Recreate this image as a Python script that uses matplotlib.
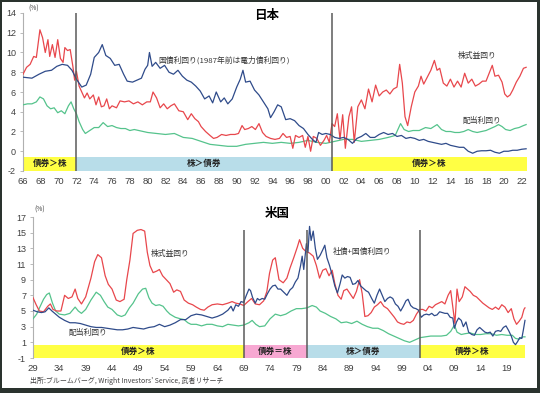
import matplotlib
matplotlib.use("Agg")
import matplotlib.pyplot as plt
from matplotlib.patches import Rectangle

plt.rcParams['font.family'] = ['Noto Sans CJK JP', 'DejaVu Sans']

# ---------------- Japan data ----------------
jp_bond_year = [1966.0,1967.0,1967.8,1968.5,1969.2,1969.8,1970.4,1971.0,1971.5,1972.0,1972.6,1973.1,1973.6,1974.0,1974.5,1974.9,1975.3,1975.8,1976.3,1976.8,1977.3,1977.7,1978.3,1978.8,1979.3,1979.7,1980.0,1980.2,1980.5,1980.9,1981.4,1981.9,1982.4,1982.9,1983.4,1983.9,1984.4,1984.9,1985.4,1985.9,1986.4,1986.9,1987.3,1987.7,1988.2,1988.6,1989.0,1989.5,1990.0,1990.4,1990.7,1991.0,1991.5,1992.0,1992.5,1993.0,1993.5,1993.8,1994.2,1994.6,1995.0,1995.5,1996.0,1996.5,1997.0,1997.5,1998.0,1998.5,1998.9,1999.2,1999.6,2000.0,2000.5,2001.0,2001.5,2002.0,2002.5,2003.0,2003.5,2004.0,2004.5,2005.0,2005.5,2006.0,2006.5,2007.0,2007.5,2008.0,2008.5,2009.0,2009.5,2010.0,2010.5,2011.0,2011.5,2012.0,2012.5,2013.0,2013.5,2014.0,2014.5,2015.0,2015.5,2016.0,2016.5,2017.0,2017.5,2018.0,2018.5,2019.0,2019.5,2020.0,2020.5,2021.0,2021.5,2022.0,2022.5]
jp_bond = [7.5,7.4,7.8,8.1,8.2,8.6,8.8,8.7,8.2,7.3,6.5,6.7,7.8,9.5,10.0,10.8,9.7,9.4,8.7,8.8,7.8,7.1,7.0,7.2,7.4,8.3,8.7,10.0,8.6,9.0,8.4,8.7,8.0,7.8,8.2,7.6,7.2,7.0,6.6,6.1,5.3,5.6,4.9,6.0,5.0,5.4,4.8,5.3,6.5,7.3,8.2,7.0,7.1,6.2,5.7,5.0,4.3,3.4,4.0,4.7,4.5,3.2,3.3,3.1,2.6,2.3,1.7,1.2,0.9,1.9,1.7,1.8,1.7,1.4,1.3,1.4,1.2,0.8,1.3,1.5,1.8,1.4,1.4,1.7,1.9,1.7,1.8,1.5,1.6,1.3,1.4,1.3,1.1,1.2,1.0,0.9,0.8,0.7,0.8,0.6,0.5,0.4,0.4,0.0,-0.2,0.0,0.05,0.05,0.1,-0.1,-0.2,0.0,0.0,0.1,0.1,0.2,0.25]

jp_earn_year = [1966.0,1966.4,1966.8,1967.2,1967.5,1967.9,1968.2,1968.5,1968.8,1969.0,1969.3,1969.6,1969.9,1970.2,1970.5,1970.7,1971.0,1971.3,1971.6,1971.8,1972.0,1972.3,1972.6,1972.9,1973.2,1973.5,1973.9,1974.2,1974.5,1974.8,1975.1,1975.4,1975.7,1976.0,1976.5,1976.9,1977.4,1977.9,1978.4,1978.9,1979.4,1979.9,1980.3,1980.6,1981.0,1981.4,1981.8,1982.2,1982.6,1983.0,1983.5,1984.0,1984.5,1984.9,1985.3,1985.7,1986.0,1986.5,1987.0,1987.4,1987.8,1988.3,1988.8,1989.3,1989.8,1990.2,1990.6,1990.9,1991.3,1991.7,1992.1,1992.5,1992.9,1993.3,1993.8,1994.3,1994.8,1995.2,1995.6,1996.0,1996.3,1996.6,1997.0,1997.4,1997.7,1998.0,1998.3,1998.6,1999.0,1999.4,1999.8,2000.1,2000.4,2000.7,2001.0,2001.3,2001.6,2001.9,2002.2,2002.6,2002.9,2003.2,2003.6,2004.0,2004.4,2004.8,2005.2,2005.6,2006.0,2006.4,2006.8,2007.2,2007.6,2008.0,2008.3,2008.6,2008.9,2009.2,2009.6,2010.0,2010.4,2010.7,2011.0,2011.4,2011.8,2012.2,2012.5,2012.8,2013.2,2013.6,2014.0,2014.4,2014.8,2015.2,2015.6,2016.0,2016.4,2016.8,2017.2,2017.6,2018.0,2018.4,2018.7,2019.0,2019.4,2019.8,2020.1,2020.4,2020.7,2021.0,2021.4,2021.8,2022.2,2022.5]
jp_earn = [7.8,8.5,8.8,9.6,9.5,12.3,11.5,10.0,11.3,9.6,10.8,9.5,11.3,9.4,9.0,10.5,10.2,10.3,8.6,7.2,8.1,6.6,6.0,5.4,5.9,5.3,5.7,4.7,5.5,4.5,4.6,5.3,4.3,4.6,4.4,5.1,5.0,5.1,4.8,5.0,4.7,5.0,5.0,6.0,5.4,4.4,4.8,4.3,4.6,4.8,4.1,4.0,3.2,3.8,3.3,3.0,2.5,2.0,1.6,1.3,1.4,1.7,1.6,1.7,1.7,1.8,2.6,2.2,2.3,2.5,2.2,2.8,1.9,1.5,1.3,1.2,1.3,1.8,1.4,1.5,0.3,1.6,1.4,1.6,0.4,1.5,0.0,1.5,1.3,0.6,1.1,1.6,0.9,2.8,2.5,3.8,1.2,3.7,0.3,3.5,4.5,0.9,4.5,5.2,4.3,6.3,5.0,6.7,5.6,6.0,6.2,5.8,6.3,6.5,8.8,6.9,3.5,2.6,4.5,6.0,6.6,7.6,6.8,7.5,8.2,9.2,8.2,8.4,6.9,6.6,7.3,6.5,7.1,6.5,7.9,6.9,7.3,6.6,6.8,7.1,7.1,8.0,8.7,7.6,7.7,7.0,5.8,5.5,5.7,6.2,7.0,7.6,8.4,8.5]

jp_div_year = [1966.0,1966.5,1967.0,1967.5,1967.9,1968.3,1968.7,1969.1,1969.5,1969.9,1970.3,1970.7,1971.1,1971.4,1971.7,1972.0,1972.3,1972.7,1973.0,1973.5,1974.0,1974.5,1975.0,1975.5,1976.0,1976.5,1977.0,1977.5,1978.0,1978.5,1979.0,1980.0,1981.0,1982.0,1983.0,1984.0,1985.0,1986.0,1987.0,1988.0,1989.0,1990.0,1991.0,1992.0,1993.0,1994.0,1995.0,1996.0,1997.0,1998.0,1999.0,2000.0,2001.0,2002.0,2003.0,2004.0,2005.0,2006.0,2007.0,2007.8,2008.4,2008.8,2009.3,2009.8,2010.5,2011.2,2011.8,2012.5,2013.0,2013.5,2014.0,2014.5,2015.0,2015.5,2016.0,2016.5,2017.0,2017.5,2018.0,2018.5,2019.0,2019.4,2019.8,2020.2,2020.7,2021.2,2021.7,2022.2,2022.5]
jp_div = [4.7,4.8,4.8,5.0,5.5,5.3,4.6,4.3,4.4,3.9,4.1,3.8,4.6,5.0,4.3,3.8,3.0,2.2,1.8,2.1,2.4,2.4,2.9,2.5,2.6,2.4,2.3,2.3,2.1,2.2,2.1,1.9,1.8,1.7,1.8,1.4,1.3,1.0,0.7,0.6,0.5,0.5,0.7,0.8,0.9,0.8,0.9,0.8,0.9,1.1,0.9,0.8,1.0,1.2,1.2,1.0,1.1,1.2,1.4,1.6,2.8,2.2,2.0,2.1,2.1,2.4,2.3,2.7,2.2,2.0,2.0,1.9,1.9,2.0,2.2,2.0,1.9,2.0,2.1,2.3,2.5,2.7,2.5,2.2,2.1,2.3,2.4,2.6,2.7]

jp_ticks = list(range(1966, 2023, 2))
jp_bands = [(1966.0, 1972.0, '債券＞株', '#ffff44'),
            (1972.0, 2000.7, '株＞債券', '#b8dde9'),
            (2000.7, 2022.6, '債券＞株', '#ffff44')]
jp_vlines = [1972.0, 2000.7]

# ---------------- US data ----------------
us_earn_year = [1929.0,1929.6,1930.2,1931.0,1931.8,1932.3,1932.8,1933.5,1934.3,1935.0,1935.7,1936.4,1937.0,1937.5,1938.2,1939.0,1940.0,1940.7,1941.3,1942.0,1942.7,1943.3,1944.0,1944.8,1945.5,1946.3,1946.8,1947.4,1948.0,1948.8,1949.5,1950.2,1950.7,1951.2,1951.8,1952.5,1953.0,1953.6,1954.3,1955.0,1955.7,1956.3,1957.0,1957.7,1958.5,1959.3,1960.0,1960.8,1961.5,1962.2,1963.0,1964.0,1965.0,1966.0,1966.8,1967.5,1968.3,1969.0,1969.8,1970.5,1971.2,1972.0,1972.8,1973.4,1973.9,1974.5,1975.0,1975.7,1976.5,1977.2,1977.8,1978.5,1979.2,1979.6,1980.2,1980.8,1981.5,1982.2,1982.8,1983.4,1984.0,1984.6,1985.2,1985.8,1986.3,1986.9,1987.5,1988.0,1988.6,1989.2,1989.8,1990.4,1991.0,1991.5,1992.0,1992.6,1993.2,1993.8,1994.4,1995.0,1995.6,1996.3,1997.0,1997.6,1998.2,1998.8,1999.4,2000.0,2000.6,2001.2,2001.8,2002.4,2003.0,2003.6,2004.2,2004.8,2005.4,2006.0,2006.6,2007.2,2007.8,2008.3,2008.8,2009.1,2009.5,2009.9,2010.5,2011.0,2011.5,2012.0,2012.6,2013.2,2013.8,2014.4,2015.0,2015.6,2016.2,2016.8,2017.4,2018.0,2018.6,2019.2,2019.8,2020.3,2020.8,2021.3,2021.8,2022.2,2022.4]
us_earn = [6.7,5.8,5.0,4.9,5.6,5.9,5.2,5.0,5.0,7.0,6.6,6.8,7.8,6.6,5.9,6.8,9.2,11.3,12.2,11.8,9.5,8.4,7.8,6.4,6.2,6.5,9.0,11.5,14.9,15.3,15.4,15.2,12.5,10.8,9.9,10.1,10.3,9.5,9.0,8.5,7.4,7.7,7.5,6.4,6.0,5.8,5.5,5.2,5.1,5.5,5.8,5.9,5.8,6.0,6.2,6.0,5.9,5.7,6.2,6.6,5.9,5.8,6.3,7.5,9.8,11.5,11.8,9.0,8.6,9.2,10.5,11.8,13.2,14.1,13.0,12.6,12.4,12.0,10.8,9.2,10.2,10.4,9.5,10.2,8.5,7.0,6.5,7.6,7.8,7.2,6.6,7.5,9.0,7.2,4.3,4.4,4.8,5.5,5.8,6.2,5.6,5.3,4.7,4.2,3.6,3.4,3.3,3.6,3.5,3.8,4.6,5.2,5.2,5.0,5.6,5.4,5.8,6.0,6.2,5.9,7.0,7.6,5.0,3.4,7.8,6.2,6.8,8.1,7.8,7.5,7.0,6.8,6.4,6.0,5.7,5.4,5.2,5.5,5.2,5.8,5.5,4.8,5.3,4.0,3.3,3.7,4.2,5.2,5.4]

us_div_year = [1929.0,1929.7,1930.3,1931.0,1931.6,1932.1,1932.7,1933.3,1934.0,1935.0,1936.0,1937.0,1937.6,1938.2,1939.0,1940.0,1941.0,1941.8,1942.5,1943.2,1944.0,1945.0,1945.8,1946.5,1947.3,1948.0,1949.0,1949.8,1950.4,1951.0,1951.6,1952.3,1953.0,1953.7,1954.4,1955.0,1956.0,1957.0,1957.7,1958.4,1959.0,1960.0,1961.0,1962.0,1963.0,1964.0,1965.0,1966.0,1967.0,1968.0,1969.0,1970.0,1970.6,1971.3,1972.0,1973.0,1974.0,1975.0,1976.0,1977.0,1978.0,1979.0,1980.0,1981.0,1982.0,1982.8,1983.5,1984.5,1985.5,1986.5,1987.5,1988.5,1989.5,1990.5,1991.5,1992.5,1993.5,1994.5,1995.5,1996.5,1997.5,1998.5,1999.5,2000.5,2001.5,2002.5,2003.5,2004.5,2005.5,2006.5,2007.5,2008.3,2009.0,2009.5,2010.3,2011.0,2012.0,2013.0,2014.0,2015.0,2016.0,2017.0,2018.0,2019.0,2020.0,2020.6,2021.3,2022.0,2022.4]
us_div = [4.0,4.6,5.5,6.5,7.1,7.3,6.0,5.0,4.6,4.5,4.7,5.5,5.0,4.7,5.2,6.4,7.4,7.0,6.2,5.5,5.2,4.5,4.3,4.5,5.4,6.0,7.2,7.8,7.9,6.7,6.0,5.7,5.8,5.6,5.0,4.6,4.2,4.0,3.9,3.5,3.3,3.3,3.1,3.3,3.3,3.1,3.0,3.3,3.2,3.1,3.2,3.5,3.8,3.3,3.0,3.1,4.0,4.6,4.4,4.6,5.0,5.3,5.3,5.4,5.7,5.5,5.0,4.7,4.3,4.0,3.5,3.6,3.4,3.7,3.3,3.0,2.8,2.8,2.5,2.1,1.8,1.5,1.2,1.0,1.3,1.6,1.7,1.8,1.8,1.8,1.9,2.4,3.2,2.3,2.0,2.1,2.2,2.0,2.0,2.1,2.1,1.9,2.0,1.9,1.9,1.5,1.4,1.7,1.7]

us_bond_year = [1929.0,1929.8,1930.6,1931.3,1932.0,1932.6,1933.3,1934.0,1935.0,1936.0,1937.0,1938.0,1939.0,1940.0,1941.0,1942.0,1943.0,1944.0,1945.0,1946.0,1947.0,1948.0,1949.0,1950.0,1951.0,1952.0,1953.0,1954.0,1955.0,1956.0,1957.0,1958.0,1959.0,1960.0,1961.0,1962.0,1963.0,1964.0,1965.0,1966.0,1966.6,1967.0,1967.5,1968.0,1968.5,1969.0,1969.5,1970.0,1970.3,1970.7,1971.2,1971.6,1972.0,1972.5,1973.0,1973.5,1974.0,1974.5,1975.0,1975.5,1976.0,1976.6,1977.2,1977.8,1978.3,1978.8,1979.3,1979.8,1980.1,1980.4,1980.9,1981.2,1981.5,1981.8,1982.2,1982.6,1983.0,1983.5,1984.0,1984.4,1984.8,1985.3,1985.8,1986.3,1986.8,1987.3,1987.7,1988.2,1988.7,1989.2,1989.7,1990.2,1990.7,1991.2,1991.7,1992.2,1992.7,1993.3,1993.8,1994.3,1994.8,1995.3,1995.8,1996.3,1996.8,1997.3,1997.8,1998.3,1998.8,1999.3,1999.8,2000.2,2000.7,2001.2,2001.7,2002.2,2002.7,2003.2,2003.7,2004.2,2004.7,2005.2,2005.7,2006.2,2006.7,2007.2,2007.7,2008.2,2008.7,2009.0,2009.4,2009.8,2010.3,2010.7,2011.2,2011.7,2012.3,2012.8,2013.3,2013.8,2014.3,2014.8,2015.3,2015.8,2016.3,2016.8,2017.3,2017.8,2018.3,2018.8,2019.3,2019.8,2020.2,2020.6,2021.0,2021.4,2021.8,2022.1,2022.4]
us_bond = [5.1,4.9,4.8,4.9,5.4,5.0,4.6,4.2,3.8,3.5,3.5,3.4,3.2,3.0,2.9,2.9,2.8,2.7,2.6,2.6,2.7,2.9,2.8,2.7,2.9,3.0,3.3,3.0,3.2,3.5,3.9,3.9,4.4,4.6,4.5,4.3,4.1,4.3,4.6,5.1,5.6,5.0,5.8,5.6,6.2,6.1,7.0,7.8,7.6,6.7,6.0,6.6,6.4,6.6,6.5,7.2,7.8,8.2,8.3,7.8,7.8,7.4,7.0,7.7,8.0,8.7,9.2,10.8,12.0,10.3,13.6,12.5,15.8,14.0,15.2,13.0,11.6,12.1,12.8,13.4,11.8,10.8,9.6,8.2,7.3,8.5,9.6,9.2,9.4,9.3,8.4,8.5,8.9,8.2,7.9,7.6,7.4,6.6,6.0,7.0,7.8,7.0,6.2,6.6,6.8,6.6,5.9,5.6,5.0,5.6,6.3,6.5,5.7,5.4,5.3,5.1,4.2,4.5,4.6,4.5,4.7,4.4,4.5,4.9,4.8,4.7,4.7,4.2,4.1,2.8,3.6,4.1,3.8,3.0,3.6,2.3,2.0,1.9,2.6,2.9,2.6,2.3,2.2,2.3,1.8,2.4,2.5,2.4,2.9,3.1,2.5,1.8,1.0,0.7,1.1,1.6,1.5,2.6,3.8]

us_ticks = list(range(1929, 2020, 5))
us_bands = [(1929.0, 1969.0, '債券＞株', '#ffff44'),
            (1969.0, 1981.0, '債券＝株', '#f7a8d2'),
            (1981.0, 2002.5, '株＞債券', '#b8dde9'),
            (2002.5, 2022.4, '債券＞株', '#ffff44')]
us_vlines = [1969.0, 1981.0, 2002.5]

RED = '#e8474c'
BLUE = '#2f4b8a'
GREEN = '#55c38c'
TXT = '#333333'
LW = 0.9

W, H = 540, 393
fig = plt.figure(figsize=(W / 100, H / 100), dpi=100)
fig.patch.set_facecolor('white')


def style(ax, ticks, ylim, ystep):
    for s in ['top', 'right', 'bottom']:
        ax.spines[s].set_visible(False)
    ax.spines['left'].set_color('#b0b0b0')
    ax.spines['left'].set_linewidth(0.8)
    ax.set_ylim(*ylim)
    yt = list(range(ylim[0], ylim[1] + 1, ystep))
    ax.set_yticks(yt)
    ax.set_yticklabels([str(v) for v in yt], fontsize=6.5, color='#404040',
                       family=['Liberation Sans', 'DejaVu Sans'])
    ax.set_xticks(ticks)
    ax.set_xticklabels([f"{t % 100:02d}" for t in ticks], fontsize=6.8, color='#404040',
                       family=['Liberation Sans', 'DejaVu Sans'])
    ax.tick_params(axis='x', length=0, pad=4)
    ax.tick_params(axis='y', length=2, width=0.6, color='#b0b0b0', pad=3)
    ax.set_facecolor('none')


# ---------- Japan ----------
ax1 = fig.add_axes([23 / W, 1 - 171 / H, (527 - 23) / W, 158 / H])
ax1.set_xlim(1966, 2022.6)
style(ax1, jp_ticks, (-2, 14), 2)
for x0, x1, lab, col in jp_bands:
    ax1.add_patch(Rectangle((x0, -2), x1 - x0, 1.45, facecolor=col, edgecolor='none', zorder=1))
    ax1.text((x0 + x1) / 2, -1.28, lab, ha='center', va='center', fontsize=6.2,
             fontweight='bold', color='#222222', zorder=5)
ax1.plot(jp_div_year, jp_div, color=GREEN, lw=LW, zorder=3)
ax1.plot(jp_earn_year, jp_earn, color=RED, lw=LW, zorder=3)
ax1.plot(jp_bond_year, jp_bond, color=BLUE, lw=LW, zorder=4)
for xv in jp_vlines:
    ax1.axvline(xv, ymin=0, ymax=1, color='#5a5a5a', lw=1.1, zorder=6)
ax1.text(1981.2, 9.2, '国債利回り(1987年前は電力債利回り)', fontsize=5.6, color=TXT, va='center', zorder=7)
ax1.text(2017.0, 9.6, '株式益回り', fontsize=5.6, color=TXT, ha='center', va='center')
ax1.text(2017.5, 3.1, '配当利回り', fontsize=5.6, color=TXT, ha='center', va='center')

# ---------- US ----------
ax2 = fig.add_axes([33 / W, 1 - 358 / H, (525.5 - 33) / W, 141 / H])
ax2.set_xlim(1929, 2022.5)
style(ax2, us_ticks, (-1, 17), 2)
for x0, x1, lab, col in us_bands:
    ax2.add_patch(Rectangle((x0, -1), x1 - x0, 1.7, facecolor=col, edgecolor='none', zorder=1))
    ax2.text((x0 + x1) / 2, -0.15, lab, ha='center', va='center', fontsize=6.2,
             fontweight='bold', color='#222222', zorder=5)
ax2.plot(us_div_year, us_div, color=GREEN, lw=LW, zorder=3)
ax2.plot(us_earn_year, us_earn, color=RED, lw=LW, zorder=3)
ax2.plot(us_bond_year, us_bond, color=BLUE, lw=LW, zorder=4)
for xv in us_vlines:
    ax2.vlines(xv, -1, 15.4, color='#5a5a5a', lw=1.1, zorder=6)
ax2.text(1955.0, 12.3, '株式益回り', fontsize=5.6, color=TXT, ha='center', va='center')
ax2.text(1939.4, 2.2, '配当利回り', fontsize=5.6, color=TXT, ha='center', va='center')
ax2.text(1991.5, 12.5, '社債+国債利回り', fontsize=5.6, color=TXT, ha='center', va='center')

# ---------- titles / notes ----------
fig.text(267 / W, 1 - 16 / H, '日本', fontsize=9, fontweight='bold', ha='center', va='center')
fig.text(277 / W, 1 - 214 / H, '米国', fontsize=9, fontweight='bold', ha='center', va='center')
fig.text(34 / W, 1 - 9 / H, '(%)', fontsize=4.8, color='#404040', ha='center', va='center')
fig.text(40 / W, 1 - 210 / H, '(%)', fontsize=4.8, color='#404040', ha='center', va='center')
fig.text(30 / W, 1 - 381 / H, "出所:ブルームバーグ, Wright Investors' Service, 武者リサーチ",
         fontsize=5, color='#404040', ha='left', va='center')

# ---------- frame ----------
FR = '#2a332e'
for rect in [(0, 0, 1, 5 / H), (0, 1 - 2 / H, 1, 2 / H), (0, 0, 2 / W, 1), (1 - 3 / W, 0, 3 / W, 1)]:
    fig.patches.append(Rectangle(rect[:2], rect[2], rect[3], transform=fig.transFigure,
                                 facecolor=FR, edgecolor='none', zorder=10))

fig.savefig('out.png', dpi=100)
